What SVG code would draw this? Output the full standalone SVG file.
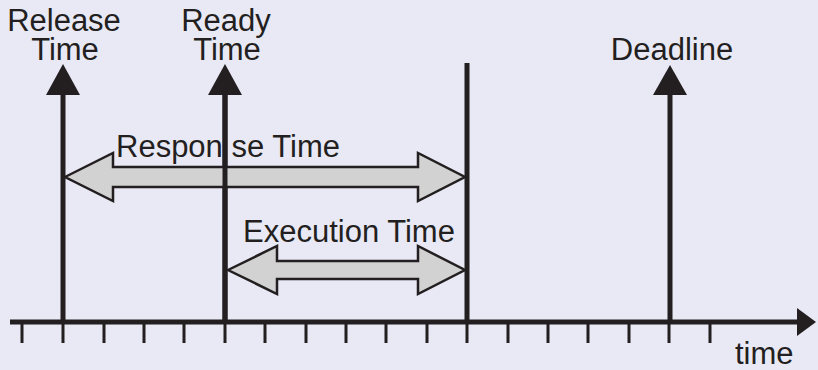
<svg xmlns="http://www.w3.org/2000/svg" width="818" height="370" viewBox="0 0 818 370">
  <style>
    .lbl { font-family: "Liberation Sans", Arial, sans-serif; font-size: 31px; fill: #231f20; }
    .mid { text-anchor: middle; }
    .bar { stroke: #231f20; stroke-width: 5; fill: none; }
    .head { fill: #231f20; }
    .tick { stroke: #231f20; stroke-width: 3; }
    .span { fill: #d2d2d2; stroke: #231f20; stroke-width: 2.5; stroke-linejoin: miter; }
  </style>
  <rect width="818" height="370" fill="#e9e9f5"/>

  <!-- time axis with ticks -->
  <g id="axis">
    <line x1="10" y1="322" x2="800" y2="322" stroke="#231f20" stroke-width="5"/>
    <polygon class="head" points="797,308 816,322 797,336"/>
    <g class="tick">
      <line x1="22" y1="322" x2="22" y2="343"/>
      <line x1="63" y1="322" x2="63" y2="343"/>
      <line x1="104" y1="322" x2="104" y2="343"/>
      <line x1="144" y1="322" x2="144" y2="343"/>
      <line x1="184" y1="322" x2="184" y2="343"/>
      <line x1="225" y1="322" x2="225" y2="343"/>
      <line x1="265" y1="322" x2="265" y2="343"/>
      <line x1="306" y1="322" x2="306" y2="343"/>
      <line x1="346" y1="322" x2="346" y2="343"/>
      <line x1="386" y1="322" x2="386" y2="343"/>
      <line x1="427" y1="322" x2="427" y2="343"/>
      <line x1="467" y1="322" x2="467" y2="343"/>
      <line x1="508" y1="322" x2="508" y2="343"/>
      <line x1="548" y1="322" x2="548" y2="343"/>
      <line x1="588" y1="322" x2="588" y2="343"/>
      <line x1="629" y1="322" x2="629" y2="343"/>
      <line x1="669" y1="322" x2="669" y2="343"/>
      <line x1="710" y1="322" x2="710" y2="343"/>
    </g>
    <text class="lbl" x="735" y="364">time</text>
  </g>

  <!-- event markers -->
  <g id="release">
    <line class="bar" x1="63" y1="90" x2="63" y2="322"/>
    <polygon class="head" points="63,64 80,95 46,95"/>
    <text class="lbl mid" x="64" y="31">Release</text>
    <text class="lbl mid" x="65" y="60">Time</text>
  </g>

  <g id="ready">
    <line class="bar" x1="225" y1="90" x2="225" y2="322"/>
    <polygon class="head" points="225,64 242,95 208,95"/>
    <text class="lbl mid" x="226" y="31">Ready</text>
    <text class="lbl mid" x="227" y="60">Time</text>
  </g>

  <g id="completion">
    <line class="bar" x1="467" y1="63" x2="467" y2="322"/>
  </g>

  <g id="deadline">
    <line class="bar" x1="670" y1="90" x2="670" y2="322"/>
    <polygon class="head" points="670,65 687,95 653,95"/>
    <text class="lbl mid" x="672" y="60">Deadline</text>
  </g>

  <!-- interval spans -->
  <g id="connectors">
    <g id="response">
      <polygon class="span" points="65,177 113,153 113,167 418,167 418,153 465,177 418,201 418,187 113,187 113,201"/>
      <line class="bar" x1="225" y1="90" x2="225" y2="322"/>
      <text class="lbl" x="116" y="157">Respon se Time</text>
    </g>
    <g id="execution">
      <polygon class="span" points="228,270 277,246 277,261 418,261 418,246 465,270 418,294 418,279 277,279 277,294"/>
      <text class="lbl" x="243" y="242">Execution Time</text>
    </g>
  </g>
</svg>
